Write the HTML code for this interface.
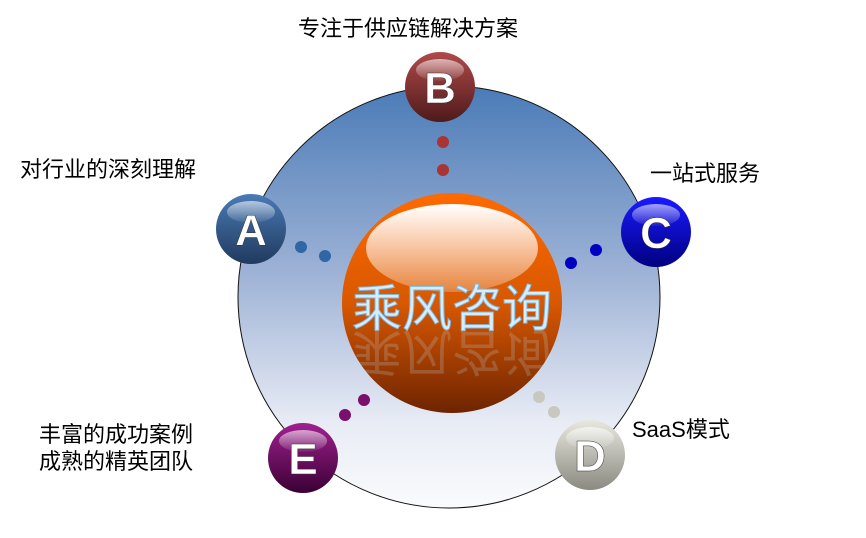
<!DOCTYPE html>
<html><head><meta charset="utf-8"><style>
body{margin:0;background:#fff;width:866px;height:533px;overflow:hidden}
text{font-family:"Liberation Sans","Noto Sans CJK SC",sans-serif}
</style></head><body>
<svg width="866" height="533" viewBox="0 0 866 533" xmlns="http://www.w3.org/2000/svg">
<defs>
<linearGradient id="bg" x1="0" y1="0" x2="0" y2="1">
<stop offset="0" stop-color="#4a7bb7"/><stop offset="0.45" stop-color="#9fb3d6"/><stop offset="0.8" stop-color="#e8ecf5"/><stop offset="1" stop-color="#fafbfd"/></linearGradient>
<linearGradient id="or" x1="0" y1="0" x2="0" y2="1">
<stop offset="0" stop-color="#ff6a00"/><stop offset="0.5" stop-color="#d85800"/><stop offset="1" stop-color="#6e2400"/></linearGradient>
<linearGradient id="hl" x1="0" y1="0" x2="0" y2="1">
<stop offset="0" stop-color="#fff" stop-opacity="1"/><stop offset="1" stop-color="#fff" stop-opacity="0.25"/></linearGradient>
<linearGradient id="gA" x1="0" y1="0" x2="0" y2="1"><stop offset="0" stop-color="#4a7ab5"/><stop offset="1" stop-color="#203a5e"/></linearGradient>
<linearGradient id="gB" x1="0" y1="0" x2="0" y2="1"><stop offset="0" stop-color="#b04a4a"/><stop offset="1" stop-color="#4e1a1a"/></linearGradient>
<linearGradient id="gC" x1="0" y1="0" x2="0" y2="1"><stop offset="0" stop-color="#1a1aff"/><stop offset="1" stop-color="#000080"/></linearGradient>
<linearGradient id="gD" x1="0" y1="0" x2="0" y2="1"><stop offset="0" stop-color="#e8e8e0"/><stop offset="1" stop-color="#8a8a80"/></linearGradient>
<linearGradient id="gE" x1="0" y1="0" x2="0" y2="1"><stop offset="0" stop-color="#a0208f"/><stop offset="1" stop-color="#3a0034"/></linearGradient>
<linearGradient id="sh" x1="0" y1="0" x2="0" y2="1"><stop offset="0" stop-color="#fff" stop-opacity="0.6"/><stop offset="1" stop-color="#fff" stop-opacity="0.05"/></linearGradient>
</defs>
<circle cx="449" cy="297" r="211" fill="url(#bg)" stroke="#111" stroke-width="1"/>
<circle cx="452" cy="303" r="110" fill="url(#or)"/>
<ellipse cx="452" cy="248" rx="86" ry="44" fill="url(#hl)"/>
<text x="452" y="326" font-size="50" text-anchor="middle" fill="#d5eeff" stroke="#7fb8e0" stroke-width="1">乘风咨询</text>
<text x="452" y="326" font-size="50" text-anchor="middle" fill="#bfe4ff" transform="translate(0,660) scale(1,-1)" opacity="0.2">乘风咨询</text>
<g>
<circle cx="251" cy="229" r="35" fill="url(#gA)"/><ellipse cx="251" cy="212" rx="24" ry="11" fill="url(#sh)"/>
<circle cx="440" cy="87" r="35" fill="url(#gB)"/><ellipse cx="440" cy="70" rx="24" ry="11" fill="url(#sh)"/>
<circle cx="656" cy="232" r="35" fill="url(#gC)"/><ellipse cx="656" cy="215" rx="24" ry="11" fill="url(#sh)"/>
<circle cx="590" cy="455" r="35" fill="url(#gD)"/><ellipse cx="590" cy="438" rx="24" ry="11" fill="url(#sh)"/>
<circle cx="303" cy="458" r="35" fill="url(#gE)"/><ellipse cx="303" cy="441" rx="24" ry="11" fill="url(#sh)"/>
</g>
<g font-size="44" font-weight="bold" fill="#fff" text-anchor="middle" stroke="#333" stroke-width="0.5">
<text x="251" y="245">A</text><text x="440" y="103">B</text><text x="656" y="248">C</text><text x="590" y="471">D</text><text x="303" y="474">E</text>
</g>
<g>
<circle cx="443" cy="142" r="6" fill="#a33"/><circle cx="443" cy="170" r="6" fill="#a33"/>
<circle cx="301" cy="247" r="6" fill="#2f66a5"/><circle cx="325" cy="256" r="6" fill="#2f66a5"/>
<circle cx="571" cy="263" r="6" fill="#0000c0"/><circle cx="596" cy="250" r="6" fill="#0000c0"/>
<circle cx="539" cy="397" r="6" fill="#c8c8c0"/><circle cx="554" cy="412" r="6" fill="#c8c8c0"/>
<circle cx="364" cy="400" r="6" fill="#7a0f6e"/><circle cx="345" cy="415" r="6" fill="#7a0f6e"/>
</g>
<g font-size="22" fill="#000">
<text x="408" y="36" text-anchor="middle">专注于供应链解决方案</text>
<text x="108" y="177" text-anchor="middle">对行业的深刻理解</text>
<text x="705" y="181" text-anchor="middle">一站式服务</text>
<text x="632" y="437">SaaS模式</text>
<text x="116" y="442" text-anchor="middle">丰富的成功案例</text>
<text x="116" y="469" text-anchor="middle">成熟的精英团队</text>
</g>
</svg>
</body></html>
